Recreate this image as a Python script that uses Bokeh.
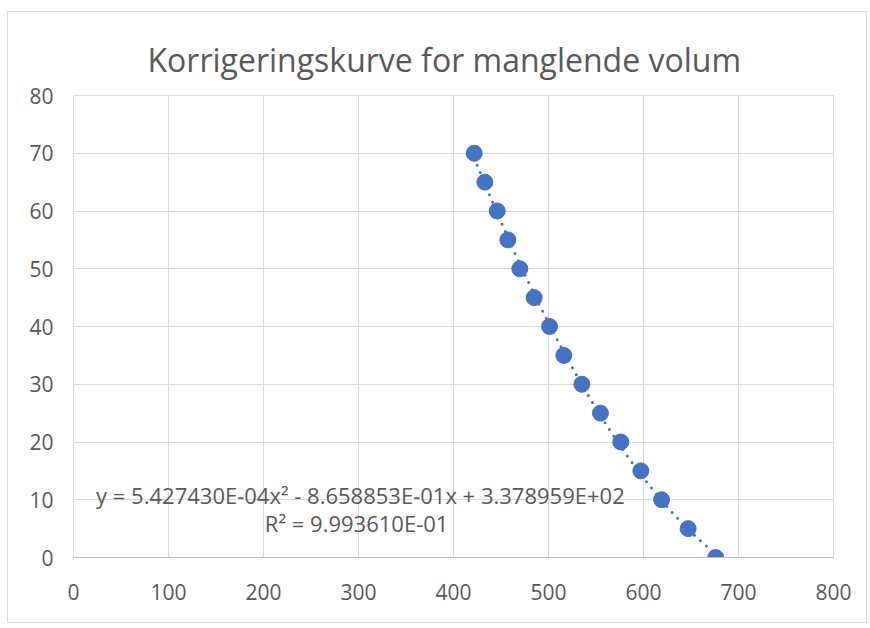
import numpy as np
from bokeh.plotting import figure
from bokeh.models import FixedTicker, Range1d, Label
from bokeh.embed import file_html
from bokeh.resources import INLINE

# Data
volume_x = [421.8, 433.0, 446.0, 457.2, 469.8, 484.9, 501.1, 516.1, 535.1, 554.7, 576.1, 597.2, 619.0, 647.0, 676.0]
correction_y = [70, 65, 60, 55, 50, 45, 40, 35, 30, 25, 20, 15, 10, 5, 0]
x_ticks = [0, 100, 200, 300, 400, 500, 600, 700, 800]
y_ticks = [0, 10, 20, 30, 40, 50, 60, 70, 80]
title_text = "Korrigeringskurve for manglende volum"
equation_text = "y = 5.427430E-04x² - 8.658853E-01x + 3.378959E+02"
r2_text = "R² = 9.993610E-01"

FONT = "Open Sans"
TEXT_COLOR = "#595959"
GRID = "#d9d9d9"
BLUE = "#4472C4"

p = figure(width=860, height=612, output_backend="svg", toolbar_location=None,
           x_range=Range1d(0, 800), y_range=Range1d(0, 80),
           min_border_left=65, min_border_right=35, min_border_top=83, min_border_bottom=67,
           title=title_text)
p.margin = (11, 0, 0, 7)
p.styles = {"border": "1px solid #d9d9d9"}

p.title.align = "left"
p.title.offset = 74
p.title.text_font = FONT
p.title.text_font_size = "32px"
p.title.text_font_style = "normal"
p.title.text_color = TEXT_COLOR
p.title.standoff = 29

p.outline_line_color = GRID
p.background_fill_color = "white"
p.border_fill_color = "white"

for ax in (p.xaxis[0], p.yaxis[0]):
    ax.major_tick_line_color = None
    ax.minor_tick_line_color = None
    ax.major_label_text_font = FONT
    ax.major_label_text_font_size = "21px"
    ax.major_label_text_color = TEXT_COLOR
p.xaxis[0].ticker = FixedTicker(ticks=x_ticks)
p.yaxis[0].ticker = FixedTicker(ticks=y_ticks)
p.xaxis[0].axis_line_color = "#bfbfbf"
p.yaxis[0].axis_line_color = None
p.xaxis[0].major_label_standoff = 20
p.yaxis[0].major_label_standoff = 14

p.xgrid.ticker = FixedTicker(ticks=x_ticks)
p.ygrid.ticker = FixedTicker(ticks=y_ticks)
p.xgrid.grid_line_color = GRID
p.ygrid.grid_line_color = GRID

# Polynomial trendline (2nd order fit of the data)
coef = np.polyfit(volume_x, correction_y, 2)
tx = np.linspace(min(volume_x), max(volume_x), 200)
ty = np.polyval(coef, tx)
p.line(tx, ty, line_color=BLUE, line_width=3, line_dash="0 8", line_cap="round")

p.scatter(volume_x, correction_y, size=16, fill_color=BLUE, line_color=BLUE)

p.add_layout(Label(x=302, y=10.9, text=equation_text, text_align="center", text_baseline="middle",
                   text_font=FONT, text_font_size="22px", text_color=TEXT_COLOR))
p.add_layout(Label(x=298, y=6.06, text=r2_text, text_align="center", text_baseline="middle",
                   text_font=FONT, text_font_size="22px", text_color=TEXT_COLOR))

open("out.html", "w").write(file_html(p, INLINE))
